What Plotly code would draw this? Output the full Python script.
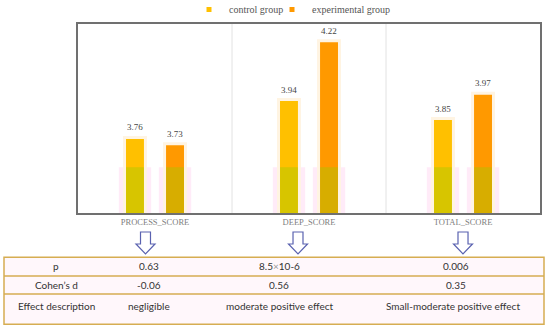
import plotly.graph_objects as go

categories = ["PROCESS_SCORE", "DEEP_SCORE", "TOTAL_SCORE"]
control = [3.76, 3.94, 3.85]
experimental = [3.73, 4.22, 3.97]
series_names = ["control group", "experimental group"]
colors = ["#FFC000", "#FF9900"]

row_labels = ["p", "Cohen\u2019s d", "Effect description"]
p_values = ["0.63", "8.5<span style='color:#999'>\u00d7</span>10-6", "0.006"]
cohens_d = ["-0.06", "0.56", "0.35"]
effects = ["negligible", "moderate positive effect", "Small-moderate positive effect"]

W, H = 550, 329
L, R, T, B = 78, 10, 24, 116
PW, PH = W - L - R, H - T - B
YMIN, YMAX = 3.4, 4.3
BAND_TOP = 3.618

def px(x):
    return (x - L) / PW

def py(y):
    return (H - B - y) / PH

fig = go.Figure()

centers = [-0.13, 0.13]
legend_ids = ["legend", "legend2"]
bw = 0.136
for vals, name, col, c, lg in zip([control, experimental], series_names, colors, centers, legend_ids):
    fig.add_trace(go.Bar(
        x=categories, y=vals, name=name, showlegend=False,
        marker=dict(color=col, line=dict(color="#fff4e2", width=3)),
        width=bw, offset=c - bw / 2,
    ))
    # legend proxy
    fig.add_trace(go.Scatter(
        x=[None], y=[None], mode="markers", name=name, legend=lg,
        marker=dict(symbol="square", size=5, color=col),
    ))

shapes = []
annotations = []
for i in range(len(categories)):
    for c in centers:
        shapes.append(dict(type="rect", xref="x", yref="y", layer="below",
                           x0=i + c - 0.105, x1=i + c + 0.105, y0=YMIN, y1=BAND_TOP,
                           fillcolor="rgba(255,205,238,0.4)", line=dict(width=0)))
        shapes.append(dict(type="rect", xref="x", yref="y", layer="above",
                           x0=i + c - 0.058, x1=i + c + 0.058, y0=YMIN, y1=BAND_TOP,
                           fillcolor="rgba(150,205,0,0.38)", line=dict(width=0)))
    for vals, c in zip([control, experimental], centers):
        annotations.append(dict(x=i + c, y=vals[i], xref="x", yref="y",
                                text=f"{vals[i]:.2f}", showarrow=False, yshift=10,
                                font=dict(family="Liberation Serif", size=9, color="#444")))

# category separators
for xs in [0.5, 1.5]:
    shapes.append(dict(type="line", xref="x", yref="paper", x0=xs, x1=xs, y0=0, y1=1,
                       line=dict(color="#e2e2e2", width=1), layer="below"))

# arrows
for ax in [145.5, 298, 463]:
    top, sb, tip, sw, hw = 232, 244, 254, 5, 9.5
    pts = [(ax - sw, top), (ax + sw, top), (ax + sw, sb), (ax + hw, sb), (ax, tip),
           (ax - hw, sb), (ax - sw, sb)]
    path = "M" + " L".join(f"{px(x):.4f},{py(y):.4f}" for x, y in pts) + " Z"
    shapes.append(dict(type="path", xref="paper", yref="paper", path=path,
                       fillcolor="white", line=dict(color="#5a62b0", width=1.2)))

# table
tx0, tx1 = 4, 544
rows_y = [257.3, 276, 294, 324.3]
shapes.append(dict(type="rect", xref="paper", yref="paper",
                   x0=px(tx0), x1=px(tx1), y0=py(rows_y[-1]), y1=py(rows_y[0]),
                   fillcolor="#fff7fb", line=dict(color="#d6ad52", width=1.5)))
for yy in rows_y[1:-1]:
    shapes.append(dict(type="line", xref="paper", yref="paper",
                       x0=px(tx0), x1=px(tx1), y0=py(yy), y1=py(yy),
                       line=dict(color="#d6ad52", width=1.5)))

col_x = [56, 149, 279, 456]
row_cy = [266, 284.5, 306]
table_rows = [[row_labels[0]] + p_values, [row_labels[1]] + cohens_d, [row_labels[2]] + effects]
for r, row in enumerate(table_rows):
    for cidx, txt in enumerate(row):
        cx = col_x[cidx] if not (r == 2 and cidx == 3) else 453
        annotations.append(dict(x=px(cx), y=py(row_cy[r]), xref="paper", yref="paper",
                                text=txt, showarrow=False, xanchor="center", yanchor="middle",
                                font=dict(family="Lato", size=10, color="#333")))

legend_style = dict(orientation="h", xref="container", yref="container",
                    xanchor="left", y=1 - 9.5 / H, yanchor="middle",
                    font=dict(family="Liberation Serif", size=10, color="#555"),
                    itemwidth=30, bgcolor="rgba(0,0,0,0)")

fig.update_layout(
    width=W, height=H,
    margin=dict(l=L, r=R, t=T, b=B, autoexpand=False),
    plot_bgcolor="white", paper_bgcolor="white",
    barmode="overlay",
    shapes=shapes, annotations=annotations,
    showlegend=True,
    legend=dict(legend_style, x=189 / W),
    legend2=dict(legend_style, x=272 / W),
    xaxis=dict(showline=True, mirror=True, linecolor="#707070", linewidth=1.5,
               showgrid=False, ticks="", range=[-0.5, 2.5],
               tickfont=dict(family="Liberation Serif", size=8.5, color="#808080")),
    yaxis=dict(showline=True, mirror=True, linecolor="#707070", linewidth=1.5,
               showgrid=False, showticklabels=False, ticks="", range=[YMIN, YMAX],
               zeroline=False),
)

fig.write_html("out.html", config={"displayModeBar": False},
               post_script="document.body.style.margin='0';")
